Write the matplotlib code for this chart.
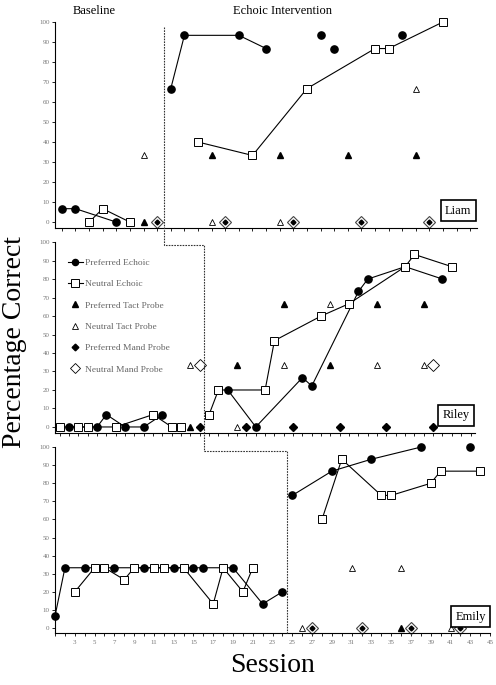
import matplotlib
matplotlib.use("Agg")
import matplotlib.pyplot as plt
from matplotlib.lines import Line2D

plt.rcParams['font.family'] = ['Liberation Serif', 'DejaVu Serif']

# ---------------- Liam ----------------
liam_pe_base_x = [1, 2, 5]; liam_pe_base_y = [6.7, 6.7, 0]
liam_ne_base_x = [3, 4, 6]; liam_ne_base_y = [0, 6.7, 0]
liam_pe_int_x = [9, 10, 14, 16]; liam_pe_int_y = [66.7, 93.3, 93.3, 86.7]
liam_pe_iso_x = [20, 21, 26]; liam_pe_iso_y = [93.3, 86.7, 93.3]
liam_ne_int_x = [11, 15, 19, 24, 25, 29]; liam_ne_int_y = [40, 33.3, 66.7, 86.7, 86.7, 100]
liam_pt_x = [7, 12, 17, 22, 27]; liam_pt_y = [0, 33.3, 33.3, 33.3, 33.3]
liam_nt_x = [7, 12, 17, 27]; liam_nt_y = [33.3, 0, 0, 66.7]
liam_md_x = [8, 13, 18, 23, 28]; liam_md_y = [0, 0, 0, 0, 0]

# ---------------- Riley ----------------
riley_pe_base_x = [2, 5, 6, 8, 10, 12]; riley_pe_base_y = [0, 0, 6.7, 0, 0, 6.7]
riley_ne_base_x = [1, 3, 4, 7, 11, 13, 14]; riley_ne_base_y = [0, 0, 0, 0, 6.7, 0, 0]
riley_pe_int_x = [19, 22, 27, 28, 33, 34, 38, 42]; riley_pe_int_y = [20, 0, 26.7, 22.2, 73.3, 80, 86.7, 80]
riley_ne_int_x = [17, 18, 23, 24, 29, 32, 38, 39, 43]; riley_ne_int_y = [6.7, 20, 20, 46.7, 60, 66.7, 86.7, 93.3, 86.7]
riley_pt_x = [15, 20, 25, 30, 35, 40]; riley_pt_y = [0, 33.3, 66.7, 33.3, 66.7, 66.7]
riley_nt_x = [15, 20, 25, 30, 35, 40]; riley_nt_y = [33.3, 0, 33.3, 66.7, 33.3, 33.3]
riley_pm_x = [16, 21, 26, 31, 36, 41]; riley_pm_y = [0, 0, 0, 0, 0, 0]
riley_nm_x = [16, 41]; riley_nm_y = [33.3, 33.3]

# ---------------- Emily ----------------
emily_pe_base_x = [1, 2, 4, 7, 10, 13, 15, 16, 19, 22, 24]
emily_pe_base_y = [6.7, 33.3, 33.3, 33.3, 33.3, 33.3, 33.3, 33.3, 33.3, 13.3, 20]
emily_ne_base_x = [3, 5, 6, 8, 9, 11, 12, 14, 17, 18, 20, 21]
emily_ne_base_y = [20, 33.3, 33.3, 26.7, 33.3, 33.3, 33.3, 33.3, 13.3, 33.3, 20, 33.3]
emily_pe_int_x = [25, 29, 33, 38]; emily_pe_int_y = [73.3, 86.7, 93.3, 100]
emily_pe_iso_x = [43]; emily_pe_iso_y = [100]
emily_ne_int_x = [28, 30, 34, 35, 39, 40, 44]; emily_ne_int_y = [60, 93.3, 73.3, 73.3, 80, 86.7, 86.7]
emily_pt_x = [36]; emily_pt_y = [0]
emily_nt_x = [26, 31, 36, 41]; emily_nt_y = [0, 33.3, 33.3, 0]
emily_md_x = [27, 32, 37, 42]; emily_md_y = [0, 0, 0, 0]

fig = plt.figure(figsize=(4.96, 6.85), dpi=100)
ax1 = fig.add_axes([0.111, 0.667, 0.851, 0.301])
ax2 = fig.add_axes([0.111, 0.3686, 0.847, 0.278])
ax3 = fig.add_axes([0.111, 0.0753, 0.877, 0.272])

lk = dict(color='black', lw=0.8)
circ = dict(marker='o', ms=5.2, mfc='black', mec='black')
sq = dict(marker='s', ms=6, mfc='white', mec='black', mew=0.7)
tri_f = dict(marker='^', ms=5, mfc='black', mec='black', ls='none')
tri_o = dict(marker='^', ms=5, mfc='white', mec='black', mew=0.6, ls='none')

def combo(ax, x, y):
    ax.plot(x, y, ls='none', marker='D', ms=6, mfc='white', mec='#444', mew=0.8, clip_on=False)
    ax.plot(x, y, ls='none', marker='D', ms=2.5, mfc='black', mec='black', clip_on=False)

def style(ax, xlim, labels):
    ax.set_xlim(*xlim)
    ax.set_ylim(-3, 100)
    ax.spines['top'].set_visible(False)
    ax.spines['right'].set_visible(False)
    ax.spines['left'].set_bounds(-3, 100)
    ax.set_yticks(range(0, 101, 10))
    ax.tick_params(axis='y', labelsize=5, labelcolor='#777', length=2.5, width=0.6, pad=1.5)
    lo = int(xlim[0] + 0.5) if xlim[0] % 1 else int(xlim[0])
    ax.set_xticks(range(max(1, lo), int(xlim[1]) + 1))
    ax.tick_params(axis='x', length=2.5, width=0.6, labelsize=5, labelcolor='#777', pad=2)
    if labels:
        ax.set_xticklabels([str(t) if (t % 2 == 1 and t > 1) else '' for t in range(max(1, lo), int(xlim[1]) + 1)])
    else:
        ax.set_xticklabels([])
    for s in ax.spines.values():
        s.set_linewidth(0.8)

def namebox(ax, name, y=0.09):
    ax.text(0.955, y, name, transform=ax.transAxes, ha='center', va='center', fontsize=9,
            bbox=dict(boxstyle='square,pad=0.35', fc='white', ec='black', lw=1.2))

# Liam
ax1.plot(liam_pe_base_x, liam_pe_base_y, **lk, **circ, clip_on=False)
ax1.plot(liam_ne_base_x, liam_ne_base_y, **lk, **sq, clip_on=False)
ax1.plot(liam_pe_int_x, liam_pe_int_y, **lk, **circ, clip_on=False)
ax1.plot(liam_pe_iso_x, liam_pe_iso_y, ls='none', **circ)
ax1.plot(liam_ne_int_x, liam_ne_int_y, **lk, **sq, clip_on=False)
ax1.plot(liam_pt_x, liam_pt_y, **tri_f, clip_on=False)
ax1.plot(liam_nt_x, liam_nt_y, **tri_o, clip_on=False)
combo(ax1, liam_md_x, liam_md_y)
style(ax1, (0.5, 31.5), False)
namebox(ax1, 'Liam', 0.085)

# Riley
ax2.plot(riley_pe_base_x, riley_pe_base_y, **lk, **circ, clip_on=False, label='Preferred Echoic')
ax2.plot(riley_ne_base_x, riley_ne_base_y, **lk, **sq, clip_on=False, label='Neutral Echoic')
ax2.plot(riley_pe_int_x, riley_pe_int_y, **lk, **circ, clip_on=False)
ax2.plot(riley_ne_int_x, riley_ne_int_y, **lk, **sq, clip_on=False)
ax2.plot(riley_pt_x, riley_pt_y, **tri_f, clip_on=False, label='Preferred Tact Probe')
ax2.plot(riley_nt_x, riley_nt_y, **tri_o, clip_on=False, label='Neutral Tact Probe')
ax2.plot(riley_pm_x, riley_pm_y, ls='none', marker='D', ms=4, mfc='black', mec='black', clip_on=False, label='Preferred Mand Probe')
ax2.plot(riley_nm_x, riley_nm_y, ls='none', marker='D', ms=6, mfc='white', mec='black', mew=0.6, clip_on=False, label='Neutral Mand Probe')
style(ax2, (0.5, 45.5), False)
namebox(ax2, 'Riley')
leg = ax2.legend(loc='upper left', bbox_to_anchor=(0.01, 0.96), frameon=False, fontsize=6.8,
                 labelcolor='#666', handlelength=1.6, handletextpad=0.2, labelspacing=1.35, markerscale=0.85)

# Emily
ax3.plot(emily_pe_base_x, emily_pe_base_y, **lk, **circ, clip_on=False)
ax3.plot(emily_ne_base_x, emily_ne_base_y, **lk, **sq, clip_on=False)
ax3.plot(emily_pe_int_x, emily_pe_int_y, **lk, **circ, clip_on=False)
ax3.plot(emily_pe_iso_x, emily_pe_iso_y, ls='none', **circ, clip_on=False)
ax3.plot(emily_ne_int_x, emily_ne_int_y, **lk, **sq, clip_on=False)
ax3.plot(emily_pt_x, emily_pt_y, **tri_f, clip_on=False)
ax3.plot(emily_nt_x, emily_nt_y, **tri_o, clip_on=False)
combo(ax3, emily_md_x, emily_md_y)
style(ax3, (1, 45), True)
namebox(ax3, 'Emily')
ax3.set_xlabel('Session', fontsize=20, labelpad=6)

fig.text(0.03, 0.5, 'Percentage Correct', rotation=90, ha='center', va='center', fontsize=20)
fig.text(0.19, 0.984, 'Baseline', ha='center', va='center', fontsize=9)
fig.text(0.57, 0.984, 'Echoic Intervention', ha='center', va='center', fontsize=9)

# phase change dashed line (figure coordinates)
inv = fig.transFigure.inverted()
def fx(ax, x):
    return inv.transform(ax.transData.transform((x, 0)))[0]
def fy(ax, y):
    return inv.transform(ax.transData.transform((0, y)))[1]
x1 = fx(ax1, 8.5); x2 = fx(ax2, 16.5); x3 = fx(ax3, 24.5)
ya = 1 - 27 / 685; yb = 1 - 245 / 685; yc = 1 - 451 / 685; yd = fy(ax3, -3)
xs = [x1, x1, x2, x2, x3, x3]
ys = [ya, yb, yb, yc, yc, yd]
fig.add_artist(Line2D(xs, ys, transform=fig.transFigure, color='#333', lw=0.8, ls=(0, (1.5, 1.0))))

fig.savefig('out.png', dpi=100)
